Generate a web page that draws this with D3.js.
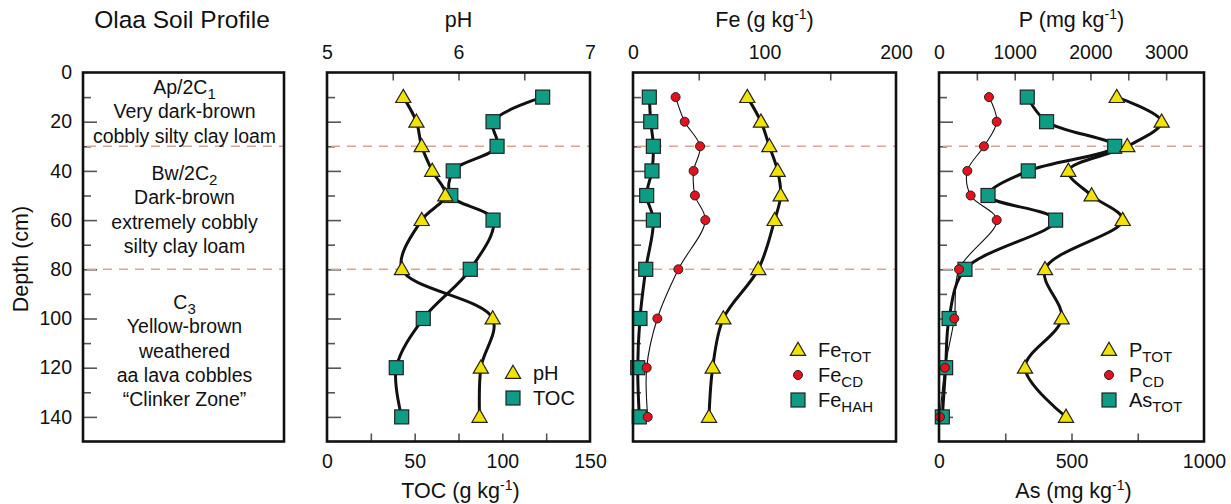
<!doctype html>
<html>
<head>
<script src="https://d3js.org/d3.v7.min.js"></script>
<style>
body { margin: 0; background: #fff; }
text { font-family: "Liberation Sans", Arial, sans-serif; fill: #111; }
</style>
</head>
<body>
<script>
// depth of each sample (cm)
var depth = [10, 20, 30, 40, 50, 60, 80, 100, 120, 140];
var pH = [5.58, 5.68, 5.72, 5.80, 5.90, 5.72, 5.57, 6.26, 6.17, 6.16];
var toc = [123, 94.7, 97, 72, 70.6, 94.7, 81.7, 54.9, 39.5, 42.6];
var feTot = [86.9, 97.3, 103.7, 110, 112.3, 107.7, 95.3, 68.7, 60.6, 57.8];
var feCd = [32.4, 39.3, 51, 46.1, 47.1, 55, 34.5, 18.5, 10.4, 11.2];
var feHah = [12.4, 13.5, 15.5, 14.4, 10.4, 15.5, 9.7, 5.3, 3.6, 4.8];
var pTot = [2347, 2941, 2487, 1708, 2016, 2426, 1400, 1620, 1136, 1677];
var pCd = [660, 762, 594, 374, 418, 762, 264, 202, 79, 13];
var asTot = [333, 406, 663, 337, 185, 440, 98, 38, 25, 12.5];
var horizonDepths = [30, 80];
var depthTicks = [0, 20, 40, 60, 80, 100, 120, 140];
var horizons = [
	{ y: 87, lines: [['Ap/2C', '1'], ['Very dark-brown'], ['cobbly silty clay loam']] },
	{ y: 173, lines: [['Bw/2C', '2'], ['Dark-brown'], ['extremely cobbly'], ['silty clay loam']] },
	{ y: 302, lines: [['C', '3'], ['Yellow-brown'], ['weathered'], ['aa lava cobbles'], ['\u201cClinker Zone\u201d']] }
];

var W = 1231, H = 504;
var top0 = 72.5, bot0 = 441.5;
var yellow = '#f3e300', teal = '#0f9c85', red = '#e5121d', dash = '#d9a591';
var fam = '"Liberation Sans", Arial, sans-serif';
var tickFont = 19.5;

var svg = d3.select('body').append('svg').attr('width', W).attr('height', H);
var y = d3.scaleLinear().domain([0, 150]).range([top0, bot0]);

var panels = [
	{ x0: 83, x1: 284 },
	{ x0: 327, x1: 590 },
	{ x0: 633, x1: 896 },
	{ x0: 939, x1: 1204 }
];

function frame(p) {
	var g = svg.append('g');
	// left depth ticks pointing inward
	g.append('g').attr('transform', 'translate(' + p.x0 + ',0)')
		.call(d3.axisRight(y).tickValues(d3.range(20, 150, 20)).tickSize(14).tickFormat(''))
		.call(function(a) { a.select('.domain').remove(); a.selectAll('line').attr('stroke', '#555').attr('stroke-width', 1.6); });
	g.append('g').attr('transform', 'translate(' + p.x0 + ',0)')
		.call(d3.axisRight(y).tickValues(d3.range(10, 150, 20)).tickSize(8).tickFormat(''))
		.call(function(a) { a.select('.domain').remove(); a.selectAll('line').attr('stroke', '#555').attr('stroke-width', 1.6); });
	// horizon boundaries
	g.selectAll('line.hz').data(horizonDepths).enter().append('line')
		.attr('x1', p.x0 + 4).attr('x2', p.x1)
		.attr('y1', function(d) { return y(d); }).attr('y2', function(d) { return y(d); })
		.attr('stroke', dash).attr('stroke-width', 1.5).attr('stroke-dasharray', '9,7');
	return g;
}

function box(p) {
	svg.append('rect').attr('x', p.x0).attr('y', top0).attr('width', p.x1 - p.x0).attr('height', bot0 - top0)
		.attr('fill', 'none').attr('stroke', '#111').attr('stroke-width', 2.6);
}

function styleLabels(a) {
	a.select('.domain').remove();
	a.selectAll('text').attr('font-size', tickFont).attr('font-family', fam).attr('fill', '#111');
}

function topAxis(p, sc, labels, inner, title) {
	svg.append('g').attr('transform', 'translate(0,' + top0 + ')')
		.call(d3.axisTop(sc).tickValues(labels).tickSize(0).tickPadding(14).tickFormat(d3.format('d')))
		.call(styleLabels);
	svg.append('g').attr('transform', 'translate(0,' + top0 + ')')
		.call(d3.axisTop(sc).tickValues(inner).tickSize(-8).tickFormat(''))
		.call(function(a) { a.select('.domain').remove(); a.selectAll('line').attr('stroke', '#555').attr('stroke-width', 1.6); });
	axisTitle(title, (p.x0 + p.x1) / 2, 27);
}

function bottomAxis(p, sc, labels, inner, title) {
	svg.append('g').attr('transform', 'translate(0,' + bot0 + ')')
		.call(d3.axisBottom(sc).tickValues(labels).tickSize(0).tickPadding(13).tickFormat(d3.format('d')))
		.call(styleLabels);
	svg.append('g').attr('transform', 'translate(0,' + bot0 + ')')
		.call(d3.axisBottom(sc).tickValues(inner).tickSize(-8).tickFormat(''))
		.call(function(a) { a.select('.domain').remove(); a.selectAll('line').attr('stroke', '#555').attr('stroke-width', 1.6); });
	axisTitle(title, (p.x0 + p.x1) / 2 + 2, 498);
}

// title like "Fe (g kg-1)" with superscript
function axisTitle(t, x, yy) {
	var tx = svg.append('text').attr('x', x).attr('y', yy).attr('text-anchor', 'middle').attr('font-size', 21.5);
	if (t.length == 1) { tx.text(t[0]); return; }
	tx.append('tspan').text(t[0]);
	tx.append('tspan').attr('font-size', 14).attr('dy', -8).text(t[1]);
	tx.append('tspan').attr('dy', 8).text(t[2]);
}

var line = d3.line().curve(d3.curveCatmullRom.alpha(0.5));

function series(sc, vals, w) {
	var pts = vals.map(function(v, i) { return [sc(v), y(depth[i])]; });
	svg.append('path').attr('d', line(pts)).attr('fill', 'none').attr('stroke', '#111').attr('stroke-width', w);
	return pts;
}

var tri = d3.symbol().type(d3.symbolTriangle).size(100);
function triangles(pts) {
	svg.append('g').selectAll('path').data(pts).enter().append('path')
		.attr('d', tri).attr('transform', function(d) { return 'translate(' + d[0] + ',' + (d[1] + 1) + ')'; })
		.attr('fill', yellow).attr('stroke', '#222').attr('stroke-width', 1.2);
}
function squares(pts) {
	svg.append('g').selectAll('rect').data(pts).enter().append('rect')
		.attr('x', function(d) { return d[0] - 7; }).attr('y', function(d) { return d[1] - 7; })
		.attr('width', 14).attr('height', 14)
		.attr('fill', teal).attr('stroke', '#222').attr('stroke-width', 1.2);
}
function circles(pts) {
	svg.append('g').selectAll('circle').data(pts).enter().append('circle')
		.attr('cx', function(d) { return d[0]; }).attr('cy', function(d) { return d[1]; }).attr('r', 4.5)
		.attr('fill', red).attr('stroke', '#222').attr('stroke-width', 1);
}

function legend(x, y0, items) {
	items.forEach(function(it, i) {
		var yy = y0 + i * 25;
		if (it.shape == 'tri') triangles([[x, yy]]);
		if (it.shape == 'sq') squares([[x, yy]]);
		if (it.shape == 'ci') circles([[x, yy]]);
		var t = svg.append('text').attr('x', x + 20).attr('y', yy + 7).attr('font-size', 20);
		t.append('tspan').text(it.label[0]);
		if (it.label[1]) t.append('tspan').attr('font-size', 15).attr('dy', 5).text(it.label[1]);
	});
}

/////////////// PANEL 1: PROFILE ///////////////
var p1 = panels[0];
frame(p1);
box(p1);
svg.append('g').attr('transform', 'translate(' + p1.x0 + ',0)')
	.call(d3.axisLeft(y).tickValues(depthTicks).tickSize(0).tickPadding(11))
	.call(styleLabels);
svg.append('text').attr('transform', 'translate(28,' + (y(75) + 2) + ') rotate(-90)')
	.attr('text-anchor', 'middle').attr('font-size', 21.5).text('Depth (cm)');
svg.append('text').attr('x', 182).attr('y', 28).attr('text-anchor', 'middle').attr('font-size', 24.5).text('Olaa Soil Profile');
horizons.forEach(function(h) {
	h.lines.forEach(function(l, i) {
		var t = svg.append('text').attr('x', (p1.x0 + p1.x1) / 2 + 1).attr('y', h.y + 7 + i * 24.3)
			.attr('text-anchor', 'middle').attr('font-size', 19.5);
		t.append('tspan').text(l[0]);
		if (l[1]) t.append('tspan').attr('font-size', 15).attr('dy', 5).text(l[1]);
	});
});

/////////////// PANEL 2: pH / TOC ///////////////
var p2 = panels[1];
frame(p2);
var xPH = d3.scaleLinear().domain([5, 7]).range([p2.x0, p2.x1]);
var xTOC = d3.scaleLinear().domain([0, 150]).range([p2.x0, p2.x1]);
topAxis(p2, xPH, [5, 6, 7], [5.5, 6, 6.5], ['pH']);
bottomAxis(p2, xTOC, [0, 50, 100, 150], [25, 50, 75, 100, 125], ['TOC (g kg', '-1', ')']);
var tocPts = series(xTOC, toc, 3);
var phPts = series(xPH, pH, 3);
squares(tocPts);
triangles(phPts);
legend(513, 373, [{ shape: 'tri', label: ['pH'] }, { shape: 'sq', label: ['TOC'] }]);
box(p2);

/////////////// PANEL 3: Fe ///////////////
var p3 = panels[2];
frame(p3);
var xFe = d3.scaleLinear().domain([0, 200]).range([p3.x0, p3.x1]);
topAxis(p3, xFe, [0, 100, 200], [50, 100, 150], ['Fe (g kg', '-1', ')']);
var hahPts = series(xFe, feHah, 3);
var cdPts = series(xFe, feCd, 1.1);
var totPts = series(xFe, feTot, 3);
squares(hahPts);
circles(cdPts);
triangles(totPts);
legend(798, 350, [{ shape: 'tri', label: ['Fe', 'TOT'] }, { shape: 'ci', label: ['Fe', 'CD'] }, { shape: 'sq', label: ['Fe', 'HAH'] }]);
box(p3);

/////////////// PANEL 4: P / As ///////////////
var p4 = panels[3];
frame(p4);
var xP = d3.scaleLinear().domain([0, 3500]).range([p4.x0, p4.x1]);
var xAs = d3.scaleLinear().domain([0, 1000]).range([p4.x0, p4.x1]);
topAxis(p4, xP, [0, 1000, 2000, 3000], [500, 1000, 1500, 2000, 2500, 3000], ['P (mg kg', '-1', ')']);
bottomAxis(p4, xAs, [0, 500, 1000], [250, 500, 750], ['As (mg kg', '-1', ')']);
var asPts = series(xAs, asTot, 3);
var pcdPts = series(xP, pCd, 1.1);
var ptotPts = series(xP, pTot, 3);
squares(asPts);
circles(pcdPts);
triangles(ptotPts);
legend(1109, 350, [{ shape: 'tri', label: ['P', 'TOT'] }, { shape: 'ci', label: ['P', 'CD'] }, { shape: 'sq', label: ['As', 'TOT'] }]);
box(p4);
</script>
</body>
</html>
